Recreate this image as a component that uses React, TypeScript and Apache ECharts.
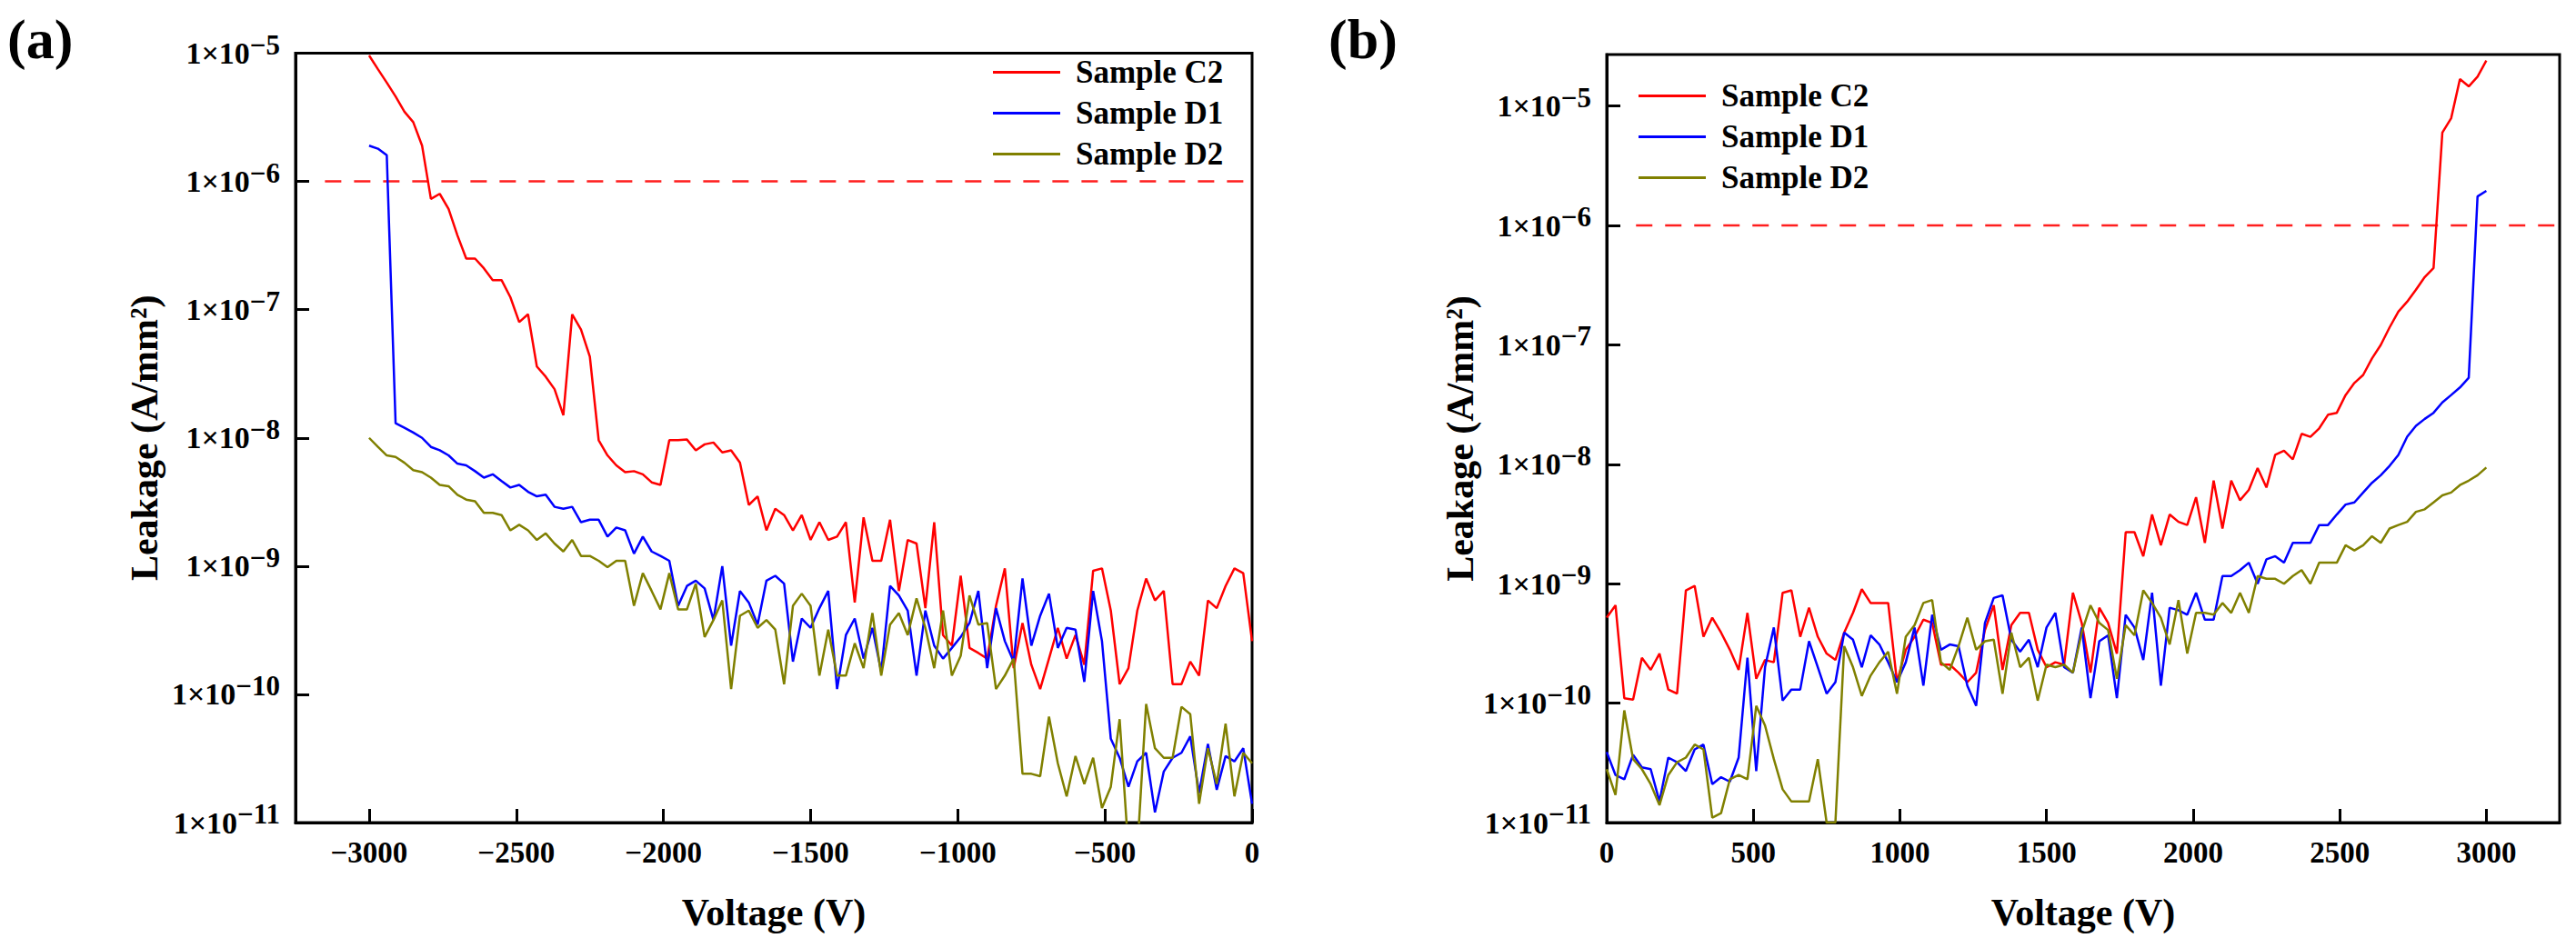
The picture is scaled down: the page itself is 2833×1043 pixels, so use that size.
import React, { useEffect, useRef } from "react";
import * as echarts from "echarts";

const FONT = '"Liberation Serif", "Times New Roman", serif';

// ---- Panel (a): negative bias ----
const VOLT_A = [
  -3000, -2970, -2940, -2910, -2880, -2850, -2820, -2790, -2760, -2730,
  -2700, -2670, -2640, -2610, -2580, -2550, -2520, -2490, -2460, -2430,
  -2400, -2370, -2340, -2310, -2280, -2250, -2220, -2190, -2160, -2130,
  -2100, -2070, -2040, -2010, -1980, -1950, -1920, -1890, -1860, -1830,
  -1800, -1770, -1740, -1710, -1680, -1650, -1620, -1590, -1560, -1530,
  -1500, -1470, -1440, -1410, -1380, -1350, -1320, -1290, -1260, -1230,
  -1200, -1170, -1140, -1110, -1080, -1050, -1020, -990, -960, -930,
  -900, -870, -840, -810, -780, -750, -720, -690, -660, -630,
  -600, -570, -540, -510, -480, -450, -420, -390, -360, -330,
  -300, -270, -240, -210, -180, -150, -120, -90, -60, -30,
  0,
];

const A_C2 = [
  9.6e-6, 7.5e-6, 5.9e-6, 4.6e-6, 3.5e-6, 2.9e-6, 1.9e-6, 7.3e-7, 8.0e-7, 6.1e-7,
  3.8e-7, 2.5e-7, 2.5e-7, 2.1e-7, 1.7e-7, 1.7e-7, 1.25e-7, 8.0e-8, 9.2e-8, 3.6e-8,
  3.0e-8, 2.4e-8, 1.5e-8, 9.2e-8, 7.0e-8, 4.3e-8, 9.6e-9, 7.3e-9, 6.1e-9, 5.4e-9,
  5.5e-9, 5.2e-9, 4.5e-9, 4.3e-9, 9.6e-9, 9.6e-9, 9.7e-9, 8.0e-9, 8.9e-9, 9.2e-9,
  7.7e-9, 8.0e-9, 6.4e-9, 3.0e-9, 3.5e-9, 1.9e-9, 2.8e-9, 2.5e-9, 1.9e-9, 2.5e-9,
  1.6e-9, 2.2e-9, 1.6e-9, 1.7e-9, 2.2e-9, 5.2e-10, 2.4e-9, 1.1e-9, 1.1e-9, 2.3e-9,
  6.4e-10, 1.6e-9, 1.5e-9, 4.7e-10, 2.2e-9, 2.9e-10, 2.4e-10, 8.4e-10, 2.3e-10, 2.1e-10,
  1.9e-10, 4.9e-10, 9.6e-10, 1.6e-10, 3.6e-10, 1.7e-10, 1.1e-10, 1.9e-10, 3.3e-10, 1.9e-10,
  2.9e-10, 1.7e-10, 9.2e-10, 9.6e-10, 4.5e-10, 1.2e-10, 1.6e-10, 4.5e-10, 8.0e-10, 5.4e-10,
  6.4e-10, 1.2e-10, 1.2e-10, 1.8e-10, 1.4e-10, 5.4e-10, 4.7e-10, 7.0e-10, 9.6e-10, 8.8e-10,
  2.6e-10,
];

const A_D1 = [
  1.9e-6, 1.8e-6, 1.6e-6, 1.3e-8, 1.2e-8, 1.1e-8, 1.0e-8, 8.5e-9, 8.0e-9, 7.3e-9,
  6.3e-9, 6.1e-9, 5.5e-9, 4.9e-9, 5.2e-9, 4.6e-9, 4.1e-9, 4.3e-9, 3.8e-9, 3.5e-9,
  3.6e-9, 2.9e-9, 2.8e-9, 2.9e-9, 2.2e-9, 2.3e-9, 2.3e-9, 1.7e-9, 2.0e-9, 1.9e-9,
  1.25e-9, 1.7e-9, 1.3e-9, 1.2e-9, 1.1e-9, 4.9e-10, 7.0e-10, 7.7e-10, 6.7e-10, 3.8e-10,
  1.0e-9, 2.4e-10, 6.4e-10, 5.2e-10, 3.5e-10, 7.7e-10, 8.4e-10, 7.3e-10, 1.8e-10, 3.9e-10,
  3.3e-10, 4.7e-10, 6.4e-10, 1.1e-10, 2.9e-10, 3.9e-10, 1.9e-10, 3.3e-10, 1.5e-10, 7.0e-10,
  5.9e-10, 4.5e-10, 1.4e-10, 4.5e-10, 2.4e-10, 1.9e-10, 2.3e-10, 2.8e-10, 3.6e-10, 6.4e-10,
  1.6e-10, 4.7e-10, 2.6e-10, 1.8e-10, 8.0e-10, 2.4e-10, 4.1e-10, 6.1e-10, 2.3e-10, 3.3e-10,
  3.2e-10, 1.25e-10, 6.4e-10, 2.6e-10, 4.5e-11, 3.2e-11, 1.9e-11, 3.0e-11, 3.5e-11, 1.2e-11,
  2.5e-11, 3.2e-11, 3.5e-11, 4.7e-11, 1.7e-11, 4.1e-11, 1.8e-11, 3.3e-11, 3.0e-11, 3.8e-11,
  1.4e-11,
];

const A_D2 = [
  1.0e-8, 8.5e-9, 7.3e-9, 7.1e-9, 6.4e-9, 5.6e-9, 5.4e-9, 4.9e-9, 4.3e-9, 4.2e-9,
  3.6e-9, 3.3e-9, 3.2e-9, 2.6e-9, 2.6e-9, 2.5e-9, 1.9e-9, 2.1e-9, 1.9e-9, 1.6e-9,
  1.8e-9, 1.5e-9, 1.3e-9, 1.6e-9, 1.2e-9, 1.2e-9, 1.1e-9, 9.8e-10, 1.1e-9, 1.1e-9,
  4.9e-10, 8.8e-10, 6.4e-10, 4.6e-10, 8.8e-10, 4.6e-10, 4.6e-10, 7.3e-10, 2.8e-10, 3.8e-10,
  5.4e-10, 1.1e-10, 4.1e-10, 4.5e-10, 3.3e-10, 3.8e-10, 3.2e-10, 1.2e-10, 4.9e-10, 6.1e-10,
  4.9e-10, 1.4e-10, 3.2e-10, 1.4e-10, 1.4e-10, 2.5e-10, 1.6e-10, 4.3e-10, 1.4e-10, 3.5e-10,
  4.3e-10, 2.9e-10, 5.6e-10, 3.3e-10, 1.6e-10, 4.5e-10, 1.4e-10, 2.0e-10, 5.9e-10, 3.5e-10,
  3.6e-10, 1.1e-10, 1.4e-10, 1.9e-10, 2.4e-11, 2.4e-11, 2.3e-11, 6.7e-11, 2.9e-11, 1.6e-11,
  3.3e-11, 2.0e-11, 3.2e-11, 1.3e-11, 1.9e-11, 6.4e-11, 6.0e-12, 6.0e-12, 8.4e-11, 3.8e-11,
  3.2e-11, 3.2e-11, 8.0e-11, 7.0e-11, 1.4e-11, 3.8e-11, 2.0e-11, 5.9e-11, 1.6e-11, 3.5e-11,
  2.9e-11,
];

// ---- Panel (b): positive bias ----
const VOLT_B = [
  0, 30, 60, 90, 120, 150, 180, 210, 240, 270,
  300, 330, 360, 390, 420, 450, 480, 510, 540, 570,
  600, 630, 660, 690, 720, 750, 780, 810, 840, 870,
  900, 930, 960, 990, 1020, 1050, 1080, 1110, 1140, 1170,
  1200, 1230, 1260, 1290, 1320, 1350, 1380, 1410, 1440, 1470,
  1500, 1530, 1560, 1590, 1620, 1650, 1680, 1710, 1740, 1770,
  1800, 1830, 1860, 1890, 1920, 1950, 1980, 2010, 2040, 2070,
  2100, 2130, 2160, 2190, 2220, 2250, 2280, 2310, 2340, 2370,
  2400, 2430, 2460, 2490, 2520, 2550, 2580, 2610, 2640, 2670,
  2700, 2730, 2760, 2790, 2820, 2850, 2880, 2910, 2940, 2970,
  3000,
];

const B_C2 = [
  5.2e-10, 6.6e-10, 1.1e-10, 1.07e-10, 2.4e-10, 1.9e-10, 2.6e-10, 1.3e-10, 1.2e-10, 8.8e-10,
  9.6e-10, 3.6e-10, 5.2e-10, 3.9e-10, 2.8e-10, 1.9e-10, 5.7e-10, 1.6e-10, 2.3e-10, 2.2e-10,
  8.4e-10, 8.8e-10, 3.6e-10, 6.3e-10, 3.6e-10, 2.6e-10, 2.3e-10, 3.9e-10, 5.7e-10, 9.0e-10,
  6.9e-10, 6.9e-10, 6.9e-10, 1.5e-10, 2.8e-10, 3.6e-10, 5.0e-10, 4.7e-10, 2.1e-10, 2.1e-10,
  1.8e-10, 1.5e-10, 1.8e-10, 4.1e-10, 6.6e-10, 1.9e-10, 4.5e-10, 5.7e-10, 5.7e-10, 2.8e-10,
  2.0e-10, 2.2e-10, 2.1e-10, 8.4e-10, 4.7e-10, 1.8e-10, 6.3e-10, 4.7e-10, 2.6e-10, 2.7e-9,
  2.7e-9, 1.7e-9, 3.8e-9, 2.1e-9, 3.8e-9, 3.3e-9, 3.1e-9, 5.3e-9, 2.2e-9, 7.3e-9,
  2.9e-9, 7.3e-9, 5.0e-9, 6.1e-9, 9.3e-9, 6.4e-9, 1.2e-8, 1.3e-8, 1.1e-8, 1.8e-8,
  1.7e-8, 2.0e-8, 2.6e-8, 2.7e-8, 3.8e-8, 4.8e-8, 5.6e-8, 7.7e-8, 1.0e-7, 1.4e-7,
  1.9e-7, 2.3e-7, 2.9e-7, 3.7e-7, 4.4e-7, 6.0e-6, 7.9e-6, 1.68e-5, 1.46e-5, 1.76e-5,
  2.4e-5,
];

const B_D1 = [
  3.9e-11, 2.5e-11, 2.3e-11, 3.7e-11, 2.9e-11, 2.8e-11, 1.5e-11, 3.5e-11, 3.2e-11, 2.7e-11,
  4.1e-11, 4.5e-11, 2.1e-11, 2.4e-11, 2.2e-11, 3.5e-11, 2.4e-10, 2.7e-11, 2.0e-10, 4.3e-10,
  1.05e-10, 1.3e-10, 1.3e-10, 3.3e-10, 2.0e-10, 1.2e-10, 1.5e-10, 3.9e-10, 3.4e-10, 2.0e-10,
  3.7e-10, 3.1e-10, 2.2e-10, 1.5e-10, 2.2e-10, 4.3e-10, 1.4e-10, 5.5e-10, 2.8e-10, 3.1e-10,
  3.0e-10, 1.4e-10, 9.5e-11, 4.7e-10, 7.6e-10, 8.0e-10, 3.4e-10, 2.7e-10, 3.4e-10, 2.0e-10,
  4.3e-10, 5.7e-10, 2.0e-10, 1.8e-10, 4.3e-10, 1.1e-10, 3.3e-10, 3.7e-10, 1.1e-10, 5.5e-10,
  4.3e-10, 2.3e-10, 8.4e-10, 1.4e-10, 6.3e-10, 6.0e-10, 5.5e-10, 8.4e-10, 5.0e-10, 5.0e-10,
  1.16e-9, 1.16e-9, 1.3e-9, 1.5e-9, 1.0e-9, 1.6e-9, 1.7e-9, 1.5e-9, 2.2e-9, 2.2e-9,
  2.2e-9, 3.1e-9, 3.1e-9, 3.8e-9, 4.6e-9, 4.8e-9, 5.8e-9, 7.0e-9, 8.1e-9, 9.7e-9,
  1.2e-8, 1.7e-8, 2.1e-8, 2.4e-8, 2.7e-8, 3.3e-8, 3.8e-8, 4.4e-8, 5.3e-8, 1.75e-6,
  1.95e-6,
];

const B_D2 = [
  2.8e-11, 1.7e-11, 8.7e-11, 3.4e-11, 2.8e-11, 2.1e-11, 1.4e-11, 2.5e-11, 3.2e-11, 3.5e-11,
  4.5e-11, 4.1e-11, 1.1e-11, 1.2e-11, 2.3e-11, 2.5e-11, 2.3e-11, 9.5e-11, 6.5e-11, 3.4e-11,
  1.9e-11, 1.5e-11, 1.5e-11, 1.5e-11, 3.4e-11, 1.0e-11, 1.0e-11, 3.0e-10, 2.0e-10, 1.15e-10,
  1.7e-10, 2.2e-10, 2.7e-10, 1.2e-10, 3.6e-10, 4.5e-10, 6.9e-10, 7.3e-10, 2.2e-10, 1.9e-10,
  3.0e-10, 5.2e-10, 2.8e-10, 3.3e-10, 3.4e-10, 1.2e-10, 3.9e-10, 2.0e-10, 2.4e-10, 1.05e-10,
  2.1e-10, 2.0e-10, 2.1e-10, 1.8e-10, 3.9e-10, 6.6e-10, 4.7e-10, 4.1e-10, 1.6e-10, 4.5e-10,
  3.7e-10, 8.8e-10, 6.9e-10, 5.2e-10, 3.1e-10, 7.3e-10, 2.6e-10, 5.7e-10, 5.7e-10, 5.5e-10,
  6.9e-10, 5.7e-10, 8.4e-10, 5.7e-10, 1.16e-9, 1.1e-9, 1.1e-9, 1.0e-9, 1.16e-9, 1.3e-9,
  1.0e-9, 1.5e-9, 1.5e-9, 1.5e-9, 2.1e-9, 1.9e-9, 2.1e-9, 2.5e-9, 2.2e-9, 2.9e-9,
  3.1e-9, 3.3e-9, 4.0e-9, 4.2e-9, 4.8e-9, 5.5e-9, 5.8e-9, 6.7e-9, 7.3e-9, 8.1e-9,
  9.4e-9,
];

// ---- reference line and axes ----
const LIMIT = 1e-6;
const LIMIT_A_RANGE = [-3150, 0];
const LIMIT_B_RANGE = [100, 3250];

const X_TICKS_A = [-3000, -2500, -2000, -1500, -1000, -500, 0];
const X_TICKS_B = [0, 500, 1000, 1500, 2000, 2500, 3000];
const Y_TICKS = [1e-11, 1e-10, 1e-9, 1e-8, 1e-7, 1e-6, 1e-5];
const X_RANGE_A = [-3250, 0];
const X_RANGE_B = [0, 3250];
const Y_RANGE_A = [1e-11, 1e-5];
const Y_RANGE_B = [1e-11, 2.7e-5];

const SERIES_NAMES = ["Sample C2", "Sample D1", "Sample D2"];
const COLORS = ["#FF0000", "#0000FF", "#808000"];

const zip = (xs: number[], ys: number[]) => xs.map((x, i) => [x, ys[i]]);

function xAxis(gridIndex: number, range: number[], ticks: number[]) {
  return {
    type: "value",
    gridIndex,
    min: range[0],
    max: range[1],
    name: "Voltage (V)",
    nameLocation: "middle",
    nameGap: 78,
    nameTextStyle: { fontFamily: FONT, fontSize: 42, fontWeight: "bold", color: "#000" },
    axisLine: { show: true, onZero: false, lineStyle: { color: "#000", width: 3 } },
    axisTick: { show: true, inside: true, length: 15, lineStyle: { color: "#000", width: 3 }, customValues: ticks },
    axisLabel: {
      show: true,
      customValues: ticks,
      margin: 16,
      fontFamily: FONT,
      fontSize: 33,
      fontWeight: "bold",
      color: "#000",
      formatter: (v: number) => (v < 0 ? "\u2212" + Math.abs(v) : String(v)),
    },
    splitLine: { show: false },
  };
}

function yAxis(gridIndex: number, range: number[], nameGap: number) {
  return {
    type: "log",
    logBase: 10,
    gridIndex,
    min: range[0],
    max: range[1],
    name: "Leakage (A/mm\u00B2)",
    nameLocation: "middle",
    nameGap,
    nameRotate: 90,
    nameTextStyle: { fontFamily: FONT, fontSize: 42, fontWeight: "bold", color: "#000" },
    axisLine: { show: true, onZero: false, lineStyle: { color: "#000", width: 3 } },
    axisTick: { show: true, inside: true, length: 15, lineStyle: { color: "#000", width: 3 }, customValues: Y_TICKS },
    minorTick: { show: false },
    splitLine: { show: false },
    axisLabel: {
      show: true,
      customValues: Y_TICKS,
      margin: 17,
      color: "#000",
      formatter: (v: number) => {
        const l = Math.log10(v);
        const e = Math.round(l);
        if (Math.abs(l - e) > 1e-6) return "";
        return "{b|1\u00D710}{s|\u2212" + Math.abs(e) + "}";
      },
      rich: {
        b: { fontFamily: FONT, fontSize: 34, fontWeight: "bold", color: "#000", lineHeight: 50 },
        s: { fontFamily: FONT, fontSize: 31, fontWeight: "bold", color: "#000", lineHeight: 30, verticalAlign: "top" },
      },
    },
  };
}

function legend(left: number, top: number) {
  return {
    show: true,
    orient: "vertical",
    left,
    top,
    padding: 0,
    icon: "rect",
    itemWidth: 74,
    itemHeight: 3,
    itemGap: 10,
    selectedMode: false,
    data: SERIES_NAMES,
    textStyle: { fontFamily: FONT, fontSize: 35, fontWeight: "bold", color: "#000", lineHeight: 35, padding: [0, 0, 0, 12] },
  };
}

function line(name: string, color: string, idx: number, xs: number[], ys: number[]) {
  return {
    type: "line",
    name,
    xAxisIndex: idx,
    yAxisIndex: idx,
    data: zip(xs, ys),
    symbol: "none",
    clip: true,
    lineStyle: { color, width: 2.5 },
    itemStyle: { color },
    emphasis: { disabled: true },
  };
}

function limitLine(idx: number, range: number[]) {
  return {
    type: "line",
    name: "limit",
    xAxisIndex: idx,
    yAxisIndex: idx,
    data: [
      [range[0], LIMIT],
      [range[1], LIMIT],
    ],
    symbol: "none",
    lineStyle: { color: "#FF1E1E", width: 2.5, type: [18, 14] },
    emphasis: { disabled: true },
  };
}

export default function App() {
  const ref = useRef<HTMLDivElement>(null);

  useEffect(() => {
    if (!ref.current) return;
    const chart = echarts.init(ref.current, undefined, { renderer: "svg" });
    const option = {
      animation: false,
      backgroundColor: "#fff",
      grid: [
        { left: 325, top: 58.5, width: 1052, height: 846.5, show: true, borderColor: "#000", borderWidth: 3, backgroundColor: "transparent" },
        { left: 1767, top: 60, width: 1048, height: 845, show: true, borderColor: "#000", borderWidth: 3, backgroundColor: "transparent" },
      ],
      xAxis: [xAxis(0, X_RANGE_A, X_TICKS_A), xAxis(1, X_RANGE_B, X_TICKS_B)],
      yAxis: [yAxis(0, Y_RANGE_A, 145), yAxis(1, Y_RANGE_B, 133)],
      legend: [legend(1092, 62), legend(1802, 88)],
      graphic: [
        { type: "text", left: 8, top: 12, style: { text: "(a)", font: 'bold 62px "Liberation Serif"', fill: "#000" } },
        { type: "text", left: 1461, top: 12, style: { text: "(b)", font: 'bold 62px "Liberation Serif"', fill: "#000" } },
      ],
      series: [
        limitLine(0, LIMIT_A_RANGE),
        limitLine(1, LIMIT_B_RANGE),
        line(SERIES_NAMES[0], COLORS[0], 0, VOLT_A, A_C2),
        line(SERIES_NAMES[1], COLORS[1], 0, VOLT_A, A_D1),
        line(SERIES_NAMES[2], COLORS[2], 0, VOLT_A, A_D2),
        line(SERIES_NAMES[0], COLORS[0], 1, VOLT_B, B_C2),
        line(SERIES_NAMES[1], COLORS[1], 1, VOLT_B, B_D1),
        line(SERIES_NAMES[2], COLORS[2], 1, VOLT_B, B_D2),
      ],
    };
    chart.setOption(option as any);
    return () => chart.dispose();
  }, []);

  return (
    <div
      ref={ref}
      style={{ position: "absolute", left: 0, top: 0, width: 2833, height: 1043, background: "#fff" }}
    />
  );
}
